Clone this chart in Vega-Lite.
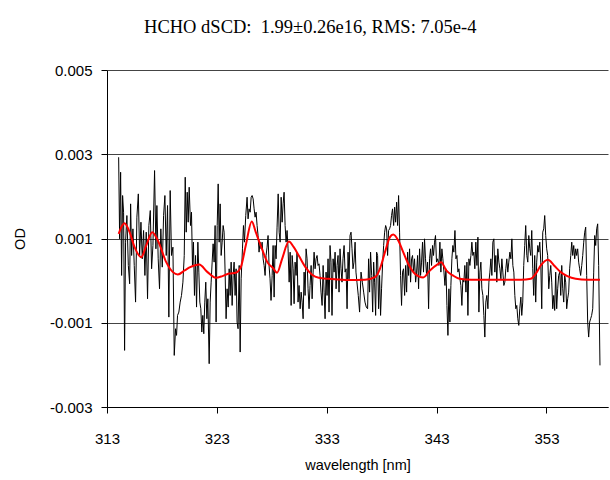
{
 "$schema": "https://vega.github.io/schema/vega-lite/v6.json",
 "width": 501,
 "height": 337,
 "autosize": {"type": "none"},
 "padding": {"left": 107, "top": 70, "right": 2, "bottom": 73},
 "background": "white",
 "title": {"text": "HCHO dSCD:\u00a0 1.99±0.26e16, RMS: 7.05e-4", "font": "Liberation Serif", "fontSize": 18.5, "fontWeight": "normal", "color": "#000", "anchor": "middle", "frame": "bounds", "offset": 27},
 "config": {
  "view": {"stroke": null},
  "axis": {"labelFont": "Liberation Sans", "titleFont": "Liberation Sans", "labelFontSize": 15, "titleFontSize": 14.5, "titleFontWeight": "normal", "labelColor": "#000", "titleColor": "#000", "domainColor": "#000", "tickColor": "#000", "domainWidth": 1, "tickWidth": 1}
 },
 "datasets": {
  "measured": [
   {"w":314.06,"v":0.002929},{"w":314.15,"v":0.000992},{"w":314.24,"v":0.002573},{"w":314.33,"v":0.000123},{"w":314.42,"v":0.00202},{"w":314.51,"v":0.001625},{"w":314.60,"v":-0.001656},{"w":314.69,"v":0.000913},{"w":314.81,"v":0.001545},{"w":314.94,"v":0.00036},
   {"w":315.06,"v":-0.000075},{"w":315.15,"v":0.001822},{"w":315.24,"v":0.000597},{"w":315.36,"v":0.001229},{"w":315.48,"v":0.00036},{"w":315.60,"v":-0.00051},{"w":315.72,"v":0.001506},{"w":315.85,"v":0.002059},{"w":315.97,"v":0.000597},{"w":316.09,"v":0.001387},
   {"w":316.21,"v":0.000518},{"w":316.33,"v":0.00119},{"w":316.45,"v":0.000123},{"w":316.57,"v":0.00115},{"w":316.69,"v":-0.000431},{"w":316.81,"v":0.001308},{"w":316.94,"v":0.001664},{"w":317.06,"v":0.000281},{"w":317.18,"v":0.000834},{"w":317.33,"v":0.002613},
   {"w":317.45,"v":0.000755},{"w":317.54,"v":0.001783},{"w":317.66,"v":0.000518},{"w":317.78,"v":-0.000194},{"w":317.90,"v":0.001229},{"w":318.03,"v":0.00032},{"w":318.15,"v":0.001545},{"w":318.27,"v":0.00202},{"w":318.39,"v":0.000597},{"w":318.51,"v":0.001783},
   {"w":318.63,"v":-0.000866},{"w":318.75,"v":0.002138},{"w":318.87,"v":0.000597},{"w":319.00,"v":0.000794},{"w":319.12,"v":-0.001775},{"w":319.24,"v":-0.001142},{"w":319.33,"v":-0.0013},{"w":319.42,"v":-0.000826},{"w":319.54,"v":-0.000747},{"w":319.66,"v":-0.00051},
   {"w":319.78,"v":-0.000352},{"w":319.91,"v":-0.000036},{"w":320.03,"v":0.000597},{"w":320.12,"v":0.002455},{"w":320.21,"v":0.00115},{"w":320.30,"v":0.002099},{"w":320.39,"v":0.001387},
   {"w":320.48,"v":0.002217},{"w":320.60,"v":0.001308},{"w":320.69,"v":0.001625},{"w":320.78,"v":0.00036},{"w":320.87,"v":0.000913},{"w":320.96,"v":-0.000352},{"w":321.06,"v":0.000597},{"w":321.15,"v":-0.000628},{"w":321.27,"v":0.000913},{"w":321.36,"v":0.000202},
   {"w":321.45,"v":-0.00051},{"w":321.54,"v":-0.000668},{"w":321.63,"v":-0.001221},{"w":321.72,"v":-0.000826},{"w":321.81,"v":-0.001261},{"w":321.90,"v":-0.00051},{"w":321.99,"v":-0.000036},{"w":322.09,"v":-0.000905},{"w":322.18,"v":-0.000431},{"w":322.30,"v":-0.001972},
   {"w":322.39,"v":-0.00051},{"w":322.48,"v":-0.000036},{"w":322.57,"v":0.000439},{"w":322.66,"v":0.000874},{"w":322.75,"v":0.000439},{"w":322.84,"v":0.001308},{"w":322.93,"v":-0.000984},{"w":323.03,"v":0.001308},{"w":323.12,"v":0.002296},{"w":323.21,"v":0.000913},
   {"w":323.30,"v":0.001822},{"w":323.39,"v":0.000597},{"w":323.48,"v":0.000913},{"w":323.57,"v":0.001308},{"w":323.66,"v":0.00115},{"w":323.75,"v":0.000202},{"w":323.84,"v":-0.000905},{"w":323.93,"v":-0.000194},{"w":324.03,"v":-0.000628},{"w":324.12,"v":0.000281},
   {"w":324.21,"v":-0.000352},{"w":324.30,"v":0.000439},{"w":324.39,"v":-0.000589},{"w":324.48,"v":0.000123},{"w":324.57,"v":0.000439},{"w":324.66,"v":-0.000352},{"w":324.75,"v":0.000281},{"w":324.84,"v":-0.000984},{"w":324.93,"v":-0.001142},{"w":325.03,"v":0.00036},
   {"w":325.12,"v":-0.001696},{"w":325.21,"v":0.000043},{"w":325.33,"v":0.000755},{"w":325.42,"v":0.001308},{"w":325.51,"v":0.000913},{"w":325.63,"v":0.001545},{"w":325.75,"v":0.00198},{"w":325.84,"v":0.001466},{"w":325.93,"v":0.001704},{"w":326.03,"v":0.001625},
   {"w":326.12,"v":0.00198},{"w":326.21,"v":0.00202},{"w":326.30,"v":0.001941},{"w":326.39,"v":0.001704},{"w":326.48,"v":0.001506},{"w":326.57,"v":0.001625},{"w":326.66,"v":0.001308},{"w":326.75,"v":0.001071},{"w":326.84,"v":0.000676},{"w":326.93,"v":0.000913},
   {"w":327.03,"v":0.000755},{"w":327.12,"v":0.000913},{"w":327.21,"v":0.000518},{"w":327.30,"v":0.00036},{"w":327.39,"v":0.000123},{"w":327.48,"v":0.000597},{"w":327.57,"v":0.000794},{"w":327.66,"v":0.001071},{"w":327.75,"v":0.00036},{"w":327.84,"v":0.000043},
   {"w":327.93,"v":-0.00047},{"w":328.03,"v":0.000123},
   {"w":328.12,"v":0.000834},{"w":328.21,"v":-0.000391},{"w":328.30,"v":0.000834},{"w":328.39,"v":0.000518},{"w":328.48,"v":0.001269},{"w":328.58,"v":0.002059},{"w":328.67,"v":0.00115},{"w":328.76,"v":0.000913},{"w":328.85,"v":0.00198},{"w":328.94,"v":0.001387},
   {"w":329.03,"v":0.001822},{"w":329.12,"v":0.002099},{"w":329.21,"v":0.001308},{"w":329.30,"v":0.000913},{"w":329.39,"v":0.00119},{"w":329.48,"v":0.000755},{"w":329.58,"v":-0.000036},{"w":329.67,"v":0.000676},{"w":329.76,"v":-0.000589},{"w":329.85,"v":0.000597},
   {"w":329.94,"v":0.000281},{"w":330.03,"v":-0.000549},{"w":330.12,"v":0.000439},{"w":330.21,"v":0.000123},{"w":330.30,"v":0.000676},{"w":330.39,"v":-0.00051},{"w":330.48,"v":-0.000115},{"w":330.58,"v":-0.000668},{"w":330.67,"v":-0.000273},{"w":330.76,"v":-0.00051},
   {"w":330.85,"v":-0.000905},{"w":330.94,"v":0.000202},{"w":331.03,"v":-0.000352},{"w":331.12,"v":0.000755},{"w":331.21,"v":0.000518},{"w":331.30,"v":-0.000194},{"w":331.39,"v":-0.000668},{"w":331.48,"v":-0.000115},{"w":331.58,"v":0.00036},{"w":331.67,"v":-0.000431},
   {"w":331.76,"v":0.000202},{"w":331.85,"v":0.000676},{"w":331.94,"v":0.000281},{"w":332.03,"v":0.000518},{"w":332.12,"v":0.000597},{"w":332.21,"v":0.00036},{"w":332.30,"v":0.000399},{"w":332.39,"v":0.000123},{"w":332.48,"v":-0.000273},{"w":332.58,"v":-0.000589},
   {"w":332.67,"v":0.00036},{"w":332.76,"v":-0.000273},{"w":332.85,"v":-0.000905},{"w":332.94,"v":0.000202},{"w":333.03,"v":-0.000352},{"w":333.12,"v":0.000518},{"w":333.21,"v":-0.000747},{"w":333.30,"v":0.000834},{"w":333.39,"v":0.000439},{"w":333.48,"v":-0.000826},
   {"w":333.58,"v":0.000518},{"w":333.67,"v":0.000202},{"w":333.76,"v":0.000676},{"w":333.85,"v":-0.000194},{"w":333.94,"v":0.00036},{"w":334.03,"v":0.000597},{"w":334.12,"v":-0.000273},{"w":334.21,"v":0.000755},{"w":334.30,"v":0.000281},{"w":334.39,"v":-0.000036},
   {"w":334.48,"v":0.000518},{"w":334.58,"v":0.000834},{"w":334.67,"v":0.000202},{"w":334.76,"v":0.000281},{"w":334.85,"v":-0.000668},{"w":334.94,"v":0.000676},{"w":335.03,"v":0.000043},{"w":335.12,"v":0.001071},{"w":335.21,"v":0.00115},{"w":335.30,"v":0.000755},
   {"w":335.39,"v":0.000281},{"w":335.48,"v":0.000439},{"w":335.58,"v":0.000913},
   {"w":335.66,"v":0.000202},{"w":335.75,"v":-0.000036},{"w":335.87,"v":-0.000352},{"w":335.99,"v":-0.000747},{"w":336.12,"v":0.000202},{"w":336.24,"v":-0.000036},{"w":336.36,"v":-0.000273},{"w":336.48,"v":-0.00051},{"w":336.60,"v":-0.000628},{"w":336.72,"v":-0.000668},
   {"w":336.81,"v":0.000518},{"w":336.90,"v":-0.000273},{"w":336.99,"v":0.000676},{"w":337.09,"v":0.000123},{"w":337.18,"v":-0.000747},{"w":337.27,"v":0.000439},{"w":337.36,"v":-0.000036},{"w":337.45,"v":-0.000826},{"w":337.54,"v":0.000676},{"w":337.63,"v":0.000597},
   {"w":337.72,"v":-0.000668},{"w":337.81,"v":0.000123},{"w":337.90,"v":-0.000826},{"w":337.99,"v":-0.000194},{"w":338.09,"v":0.000439},{"w":338.18,"v":0.000834},{"w":338.27,"v":0.00115},{"w":338.36,"v":0.001308},{"w":338.45,"v":0.001229},{"w":338.54,"v":0.000597},
   {"w":338.63,"v":0.00119},{"w":338.72,"v":0.001229},{"w":338.81,"v":0.001308},{"w":338.90,"v":0.001545},{"w":338.99,"v":0.001704},{"w":339.09,"v":0.001308},{"w":339.18,"v":0.001743},{"w":339.27,"v":0.001387},{"w":339.36,"v":0.001862},{"w":339.45,"v":0.001308},
   {"w":339.54,"v":0.00202},{"w":339.63,"v":0.00115},{"w":339.72,"v":0.000123},{"w":339.81,"v":-0.000589},{"w":339.90,"v":0.000202},{"w":339.99,"v":0.000281},{"w":340.09,"v":-0.000352},{"w":340.18,"v":0.00036},{"w":340.27,"v":-0.000273},{"w":340.36,"v":0.000676},
   {"w":340.45,"v":0.000123},{"w":340.54,"v":0.000755},{"w":340.63,"v":-0.000036},{"w":340.72,"v":0.000518},{"w":340.81,"v":0.000597},{"w":340.90,"v":0.000202},{"w":340.99,"v":0.000518},{"w":341.09,"v":-0.000036},{"w":341.18,"v":0.000202},{"w":341.27,"v":0.000597},
   {"w":341.36,"v":-0.000194},{"w":341.45,"v":0.000755},{"w":341.54,"v":0.000123},{"w":341.63,"v":0.000439},{"w":341.72,"v":0.000913},{"w":341.81,"v":0.000202},{"w":341.90,"v":0.000992},{"w":341.99,"v":0.000518},{"w":342.09,"v":0.000123},{"w":342.18,"v":0.000439},
   {"w":342.27,"v":-0.000668},{"w":342.36,"v":0.000518},{"w":342.45,"v":0.000755},{"w":342.54,"v":0.00036},{"w":342.63,"v":0.000834},{"w":342.72,"v":0.000597},{"w":342.81,"v":0.000913},{"w":342.90,"v":0.001071},{"w":342.99,"v":0.000439},{"w":343.09,"v":0.000518},
   {"w":343.21,"v":0.00036},{"w":343.30,"v":0.000913},{"w":343.39,"v":0.000202},{"w":343.48,"v":0.000755},{"w":343.57,"v":0.000518},{"w":343.67,"v":0.000202},{"w":343.76,"v":-0.000115},{"w":343.85,"v":0.000281},{"w":343.94,"v":-0.000589},{"w":344.03,"v":-0.0013},
   {"w":344.12,"v":-0.000194},{"w":344.21,"v":-0.000984},{"w":344.30,"v":-0.000115},{"w":344.39,"v":0.000518},{"w":344.48,"v":0.000834},{"w":344.57,"v":0.000676},{"w":344.67,"v":0.00119},{"w":344.76,"v":0.000518},{"w":344.85,"v":0.000597},{"w":344.94,"v":0.000202},
   {"w":345.03,"v":0.000281},{"w":345.12,"v":0.000043},{"w":345.21,"v":-0.000115},{"w":345.30,"v":-0.000589},{"w":345.39,"v":0.000043},{"w":345.48,"v":-0.000036},{"w":345.57,"v":0.00036},{"w":345.67,"v":-0.000273},{"w":345.76,"v":0.000439},{"w":345.85,"v":-0.000826},
   {"w":345.94,"v":0.000518},{"w":346.03,"v":0.00036},{"w":346.12,"v":0.000597},{"w":346.21,"v":0.000913},{"w":346.30,"v":0.000597},{"w":346.39,"v":0.000676},{"w":346.48,"v":0.000281},{"w":346.57,"v":0.000913},{"w":346.67,"v":0.00036},{"w":346.76,"v":0.001032},
   {"w":346.85,"v":-0.000747},{"w":346.94,"v":0.000202},{"w":347.03,"v":0.000439},{"w":347.12,"v":-0.000194},{"w":347.21,"v":-0.000352},{"w":347.30,"v":-0.000826},{"w":347.39,"v":-0.00134},{"w":347.48,"v":-0.00051},{"w":347.57,"v":-0.000352},{"w":347.67,"v":-0.000668},
   {"w":347.76,"v":-0.000036},{"w":347.85,"v":0.000202},{"w":347.94,"v":0.000518},{"w":348.03,"v":0.000123},{"w":348.12,"v":0.000913},{"w":348.21,"v":0.000992},{"w":348.30,"v":0.000202},{"w":348.39,"v":0.000597},{"w":348.48,"v":-0.000036},{"w":348.57,"v":0.000755},
   {"w":348.67,"v":0.000439},{"w":348.76,"v":0.000281},{"w":348.85,"v":0.000043},{"w":348.94,"v":0.000518},{"w":349.03,"v":0.000202},{"w":349.12,"v":-0.000115},{"w":349.21,"v":-0.000036},{"w":349.30,"v":0.000281},{"w":349.39,"v":0.000518},{"w":349.48,"v":0.000202},
   {"w":349.57,"v":0.000439},{"w":349.67,"v":0.000676},{"w":349.76,"v":0.000518},{"w":349.85,"v":0.000992},{"w":349.94,"v":0.00036},{"w":350.03,"v":0.000202},{"w":350.12,"v":-0.000352},{"w":350.21,"v":-0.000668},{"w":350.30,"v":-0.000589},{"w":350.39,"v":-0.000905},
   {"w":350.48,"v":-0.001063},{"w":350.57,"v":-0.000668},{"w":350.67,"v":-0.000391},
   {"w":350.75,"v":-0.000826},{"w":350.84,"v":-0.00051},{"w":350.93,"v":0.00036},{"w":351.02,"v":0.000834},{"w":351.11,"v":0.001308},{"w":351.21,"v":0.000597},{"w":351.30,"v":0.000439},{"w":351.39,"v":0.001071},{"w":351.48,"v":0.000755},{"w":351.57,"v":0.000597},
   {"w":351.66,"v":0.00119},{"w":351.75,"v":0.000281},{"w":351.84,"v":-0.000352},{"w":351.93,"v":0.000597},{"w":352.02,"v":-0.00051},{"w":352.11,"v":0.000439},{"w":352.21,"v":0.000834},{"w":352.30,"v":0.000676},{"w":352.39,"v":0.000913},{"w":352.48,"v":0.000439},
   {"w":352.57,"v":-0.000668},{"w":352.66,"v":0.00115},{"w":352.75,"v":0.001229},{"w":352.84,"v":0.001545},{"w":352.93,"v":0.001071},{"w":353.02,"v":0.000755},{"w":353.11,"v":0.000597},{"w":353.21,"v":-0.000194},{"w":353.30,"v":0.000123},{"w":353.39,"v":0.00036},
   {"w":353.48,"v":-0.000036},{"w":353.57,"v":-0.000668},{"w":353.66,"v":-0.000352},{"w":353.75,"v":-0.000708},{"w":353.84,"v":0.000202},{"w":353.93,"v":-0.000668},{"w":354.02,"v":-0.000194},{"w":354.11,"v":0.000123},{"w":354.21,"v":0.000202},{"w":354.30,"v":-0.000352},
   {"w":354.39,"v":0.00036},{"w":354.48,"v":-0.000194},{"w":354.57,"v":-0.00051},{"w":354.66,"v":0.000123},{"w":354.75,"v":-0.000036},{"w":354.84,"v":-0.000668},{"w":354.93,"v":-0.000431},{"w":355.02,"v":-0.000273},{"w":355.11,"v":0.000281},{"w":355.21,"v":0.000597},
   {"w":355.30,"v":0.000913},{"w":355.39,"v":0.000597},{"w":355.48,"v":0.000834},{"w":355.57,"v":0.000518},{"w":355.66,"v":0.000755},{"w":355.75,"v":0.000597},{"w":355.84,"v":0.000755},{"w":355.93,"v":0.000439},{"w":356.02,"v":0.000281},{"w":356.11,"v":0.000123},
   {"w":356.21,"v":0.00036},{"w":356.30,"v":0.000597},{"w":356.39,"v":0.000913},{"w":356.48,"v":0.00115},{"w":356.57,"v":0.001269},{"w":356.66,"v":0.000123},{"w":356.75,"v":-0.000984},{"w":356.84,"v":-0.00134},{"w":356.93,"v":-0.000984},{"w":357.02,"v":-0.000905},
   {"w":357.11,"v":-0.000826},{"w":357.21,"v":-0.000668},{"w":357.30,"v":0.000202},{"w":357.39,"v":0.001071},{"w":357.48,"v":0.000834},{"w":357.57,"v":0.001229},{"w":357.66,"v":0.001348},{"w":357.75,"v":0.00036},{"w":357.87,"v":-0.002012}
  ],
  "fit": [
   {"w":314.06,"v":0.001111},{"w":314.30,"v":0.001269},{"w":314.60,"v":0.001364},{"w":315.06,"v":0.00115},{"w":315.51,"v":0.000794},{"w":316.12,"v":0.000557},{"w":316.57,"v":0.000834},{"w":317.12,"v":0.00115},{"w":317.63,"v":0.000953},{"w":318.39,"v":0.000439},
   {"w":319.00,"v":0.000202},{"w":319.45,"v":0.000146},{"w":320.06,"v":0.000241},{"w":320.57,"v":0.00032},{"w":321.39,"v":0.000383},{"w":322.15,"v":0.000202},{"w":322.90,"v":0.000067},{"w":323.51,"v":0.000107},{"w":324.12,"v":0.00017},{"w":324.72,"v":0.000186},
   {"w":325.18,"v":0.00032},{"w":325.63,"v":0.000834},{"w":326.18,"v":0.001403},{"w":326.54,"v":0.00115},{"w":326.99,"v":0.000834},{"w":327.60,"v":0.000439},{"w":328.12,"v":0.000296},{"w":328.48,"v":0.000186},{"w":328.94,"v":0.000518},{"w":329.55,"v":0.000929},
   {"w":330.00,"v":0.000794},{"w":330.45,"v":0.000597},{"w":331.06,"v":0.00032},{"w":331.67,"v":0.000138},{"w":332.27,"v":0.000067},{"w":333.18,"v":0.000043},{"w":334.09,"v":0.000028},{"w":335.00,"v":0.000012},{"w":336.48,"v":0.00002},{"w":337.39,"v":0.000083},
   {"w":337.84,"v":0.000281},{"w":338.30,"v":0.000676},{"w":338.75,"v":0.001032},{"w":339.05,"v":0.001095},{"w":339.51,"v":0.000953},{"w":339.96,"v":0.000676},{"w":340.42,"v":0.000399},{"w":341.02,"v":0.000162},{"w":341.78,"v":0.000075},{"w":342.39,"v":0.000241},
   {"w":343.15,"v":0.000399},{"w":343.42,"v":0.000439},{"w":343.88,"v":0.000241},{"w":344.48,"v":0.000123},{"w":345.09,"v":0.000043},{"w":346.15,"v":0.00002},{"w":347.67,"v":0.00002},{"w":349.18,"v":0.00002},{"w":350.70,"v":0.00002},{"w":351.57,"v":0.000043},
   {"w":352.02,"v":0.000162},{"w":352.48,"v":0.00036},{"w":353.14,"v":0.000494},{"w":353.69,"v":0.00036},{"w":354.30,"v":0.000202},{"w":354.90,"v":0.000107},{"w":355.66,"v":0.000043},{"w":356.72,"v":0.00002},{"w":357.87,"v":0.00002}
  ]
 },
 "layer": [
  {
   "data": {"name": "measured"},
   "mark": {"type": "line", "color": "#000000", "strokeWidth": 1},
   "encoding": {
    "x": {"field": "w", "type": "quantitative", "scale": {"domain": [313, 358.6], "nice": false, "zero": false},
     "axis": {"values": [313, 323, 333, 343, 353], "format": "d", "title": "wavelength [nm]", "grid": false, "tickSize": 6, "labelPadding": 18, "titlePadding": 12, "labelFlush": false}},
    "y": {"field": "v", "type": "quantitative", "scale": {"domain": [-0.003, 0.005], "nice": false, "zero": false},
     "axis": {"values": [-0.003, -0.001, 0.001, 0.003, 0.005], "labelExpr": "replace(format(datum.value, '.3f'), '\u2212', '-')", "title": "OD", "grid": true, "gridColor": "#444444", "gridWidth": 1, "gridOpacity": 1, "tickSize": 6, "labelPadding": 9, "titlePadding": 22, "labelFlush": false}}
   }
  },
  {
   "data": {"name": "fit"},
   "mark": {"type": "line", "color": "#ff0000", "strokeWidth": 2, "interpolate": "monotone"},
   "encoding": {
    "x": {"field": "w", "type": "quantitative"},
    "y": {"field": "v", "type": "quantitative"}
   }
  }
 ]
}
